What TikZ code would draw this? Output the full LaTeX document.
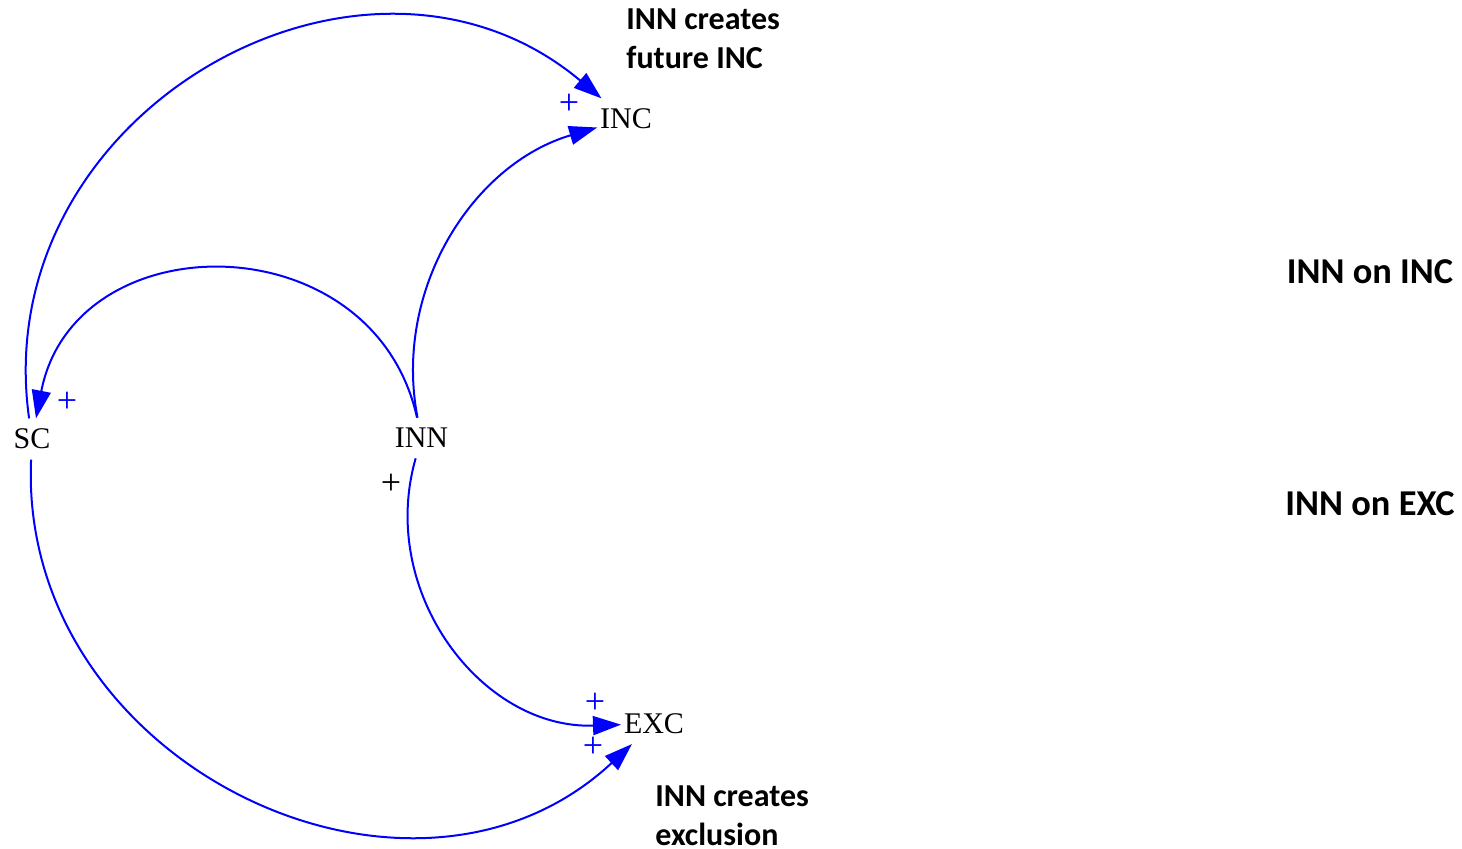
\documentclass[tikz,border=0pt]{standalone}
\usepackage{fontspec}
\setmainfont{Liberation Serif}
\newfontfamily\notefont{Carlito}
\usetikzlibrary{arrows.meta}
\definecolor{linkblue}{RGB}{0,0,255}
\begin{document}
\begin{tikzpicture}[x=0.5pt,y=0.5pt,
  var/.style={font=\fontsize{15}{18}\selectfont, inner xsep=1.5pt, inner ysep=5.25pt, outer sep=0pt},
  link/.style={draw=linkblue, line width=1pt, -{Triangle[length=14pt,width=9.5pt]}, fill=none},
  sign/.style={font=\fontsize{18}{20}\selectfont, inner sep=0pt, text=linkblue},
  note/.style={font=\notefont\bfseries\fontsize{16}{19.5}\selectfont, align=left, inner sep=0pt, anchor=north west},
  head/.style={font=\notefont\bfseries\fontsize{18.2}{22}\selectfont, inner sep=0pt}]
\useasboundingbox (0,0) rectangle (1462,849);

% variables
\node[var] (SC)  at (32,410)    {SC};
\node[var] (INN) at (421.5,411) {INN};
\node[var] (INC) at (626,730)   {INC};
\node[var] (EXC) at (654,125.5) {EXC};

% causal links
\draw[link] (SC)  to[out=98,    in=140,   looseness=1.21] (INC);
\draw[link] (INN) to[out=101,   in=196.5, looseness=0.975] (INC);
\draw[link] (INN) to[out=102.5, in=79,    looseness=1.35]  (SC);
\draw[link] (INN) to[out=254,   in=182,   looseness=1.06]  (EXC);
\draw[link] (SC)  to[out=267.5, in=223,   looseness=1.17]  (EXC);

% polarities
\node[sign] (pINC)  at (569,745) {+};
\node[sign] (pSC)   at (67,447)  {+};
\node[sign,text=black] (pINN) at (391,365) {+};
\node[sign] (pEXCa) at (595,146) {+};
\node[sign] (pEXCb) at (593,102) {+};

% annotations
\node[note] (nINC) at (626,840.5) {INN creates\\future INC};
\node[note] (nEXC) at (655,63.5)  {INN creates\\exclusion};
\node[head] (hINC) at (1370,577.5) {INN on INC};
\node[head] (hEXC) at (1370,345)   {INN on EXC};
\end{tikzpicture}
\end{document}
